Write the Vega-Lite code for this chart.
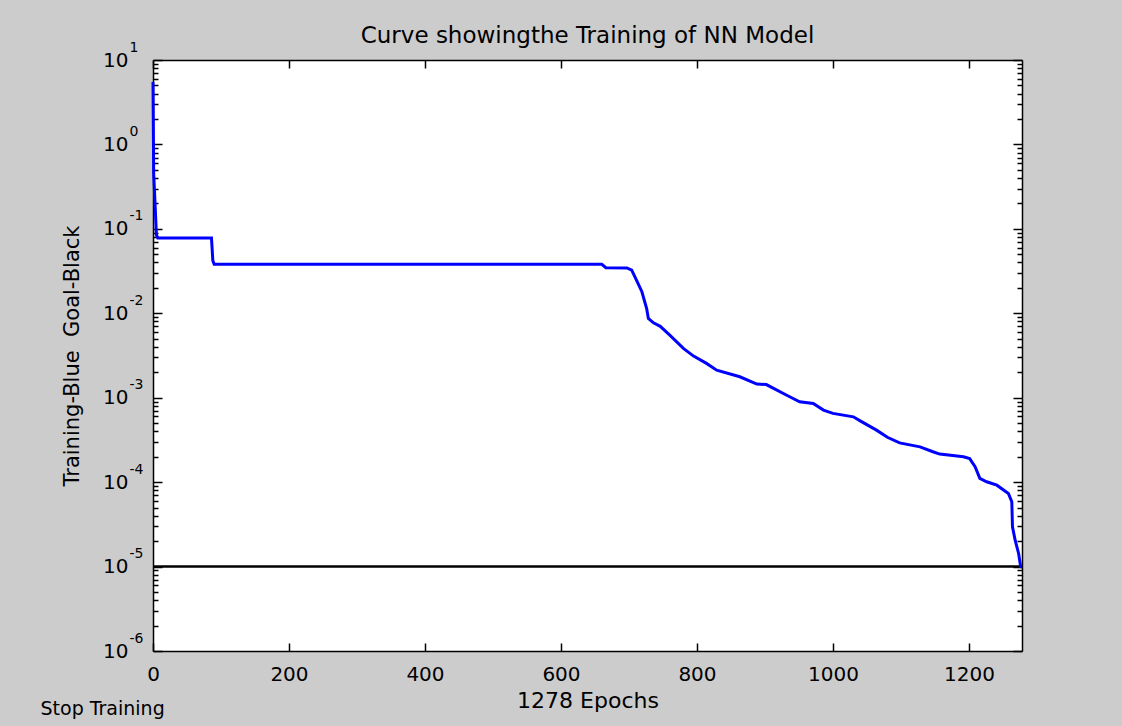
{
  "$schema": "https://vega.github.io/schema/vega-lite/v6.json",
  "width": 869,
  "height": 591,
  "autosize": {"type": "none"},
  "padding": {"left": 153, "top": 60, "right": 100, "bottom": 75},
  "background": "#cccccc",
  "config": {
    "view": {"fill": "white", "stroke": null},
    "font": "DejaVu Sans",
    "axis": {
      "domainColor": "black",
      "domainWidth": 1.5,
      "tickColor": "black",
      "tickWidth": 1.5,
      "grid": false,
      "labelFont": "DejaVu Sans",
      "labelFontSize": 20,
      "labelColor": "black",
      "titleFont": "DejaVu Sans",
      "titleFontSize": 21,
      "titleFontWeight": "normal",
      "titleColor": "black",
      "labelOverlap": false,
      "labelFlush": false,
      "minExtent": 0
    }
  },
  "title": {
    "text": "Curve showingthe Training of NN Model",
    "font": "DejaVu Sans",
    "fontSize": 23,
    "fontWeight": "normal",
    "color": "black",
    "anchor": "middle",
    "frame": "group",
    "baseline": "alphabetic",
    "offset": 18,
    "dy": 44
  },
  "datasets": {
    "goal": [
      {"epoch": 0, "goal": 0.00001},
      {"epoch": 1278, "goal": 0.00001}
    ],
    "perf": [
      {"epoch": 0, "perf": 5.5},
      {"epoch": 1, "perf": 0.45},
      {"epoch": 3, "perf": 0.2},
      {"epoch": 5, "perf": 0.085},
      {"epoch": 7, "perf": 0.078},
      {"epoch": 86, "perf": 0.078},
      {"epoch": 88, "perf": 0.042},
      {"epoch": 90, "perf": 0.038},
      {"epoch": 660, "perf": 0.038},
      {"epoch": 666, "perf": 0.0347},
      {"epoch": 697, "perf": 0.0345},
      {"epoch": 704, "perf": 0.0325},
      {"epoch": 711, "perf": 0.0247},
      {"epoch": 719, "perf": 0.018},
      {"epoch": 726, "perf": 0.0114},
      {"epoch": 728.5, "perf": 0.0087},
      {"epoch": 736, "perf": 0.0077},
      {"epoch": 746, "perf": 0.007},
      {"epoch": 760, "perf": 0.0055},
      {"epoch": 780, "perf": 0.00384},
      {"epoch": 795, "perf": 0.00311},
      {"epoch": 814, "perf": 0.00255},
      {"epoch": 829, "perf": 0.00212},
      {"epoch": 863, "perf": 0.00177},
      {"epoch": 888, "perf": 0.00145},
      {"epoch": 902, "perf": 0.00143},
      {"epoch": 932, "perf": 0.00107},
      {"epoch": 951, "perf": 0.000895},
      {"epoch": 971, "perf": 0.000855},
      {"epoch": 986, "perf": 0.000713},
      {"epoch": 1000, "perf": 0.000652},
      {"epoch": 1030, "perf": 0.000594},
      {"epoch": 1040, "perf": 0.000532},
      {"epoch": 1064, "perf": 0.000413},
      {"epoch": 1080, "perf": 0.00034},
      {"epoch": 1098, "perf": 0.000292},
      {"epoch": 1128, "perf": 0.000262},
      {"epoch": 1147, "perf": 0.000229},
      {"epoch": 1157, "perf": 0.000215},
      {"epoch": 1192, "perf": 0.0002},
      {"epoch": 1201, "perf": 0.00019},
      {"epoch": 1209, "perf": 0.000152},
      {"epoch": 1216, "perf": 0.000111},
      {"epoch": 1226, "perf": 0.000101},
      {"epoch": 1241, "perf": 0.000092},
      {"epoch": 1258, "perf": 0.0000735},
      {"epoch": 1263, "perf": 0.0000585},
      {"epoch": 1264, "perf": 0.0000295},
      {"epoch": 1268, "perf": 0.0000204},
      {"epoch": 1273, "perf": 0.0000143},
      {"epoch": 1276, "perf": 0.00001},
      {"epoch": 1278, "perf": 0.0000099}
    ]
  },
  "layer": [
    {
      "data": {"name": "goal"},
      "mark": {"type": "line", "color": "black", "strokeWidth": 2.5},
      "encoding": {
        "x": {
          "field": "epoch",
          "type": "quantitative",
          "scale": {"domain": [0, 1278], "nice": false, "zero": false},
          "axis": {
            "orient": "top",
            "values": [0, 200, 400, 600, 800, 1000, 1200],
            "labels": false,
            "tickSize": -8,
            "title": null
          }
        },
        "y": {
          "field": "goal",
          "type": "quantitative",
          "scale": {"type": "log", "domain": [0.000001, 10], "nice": false},
          "axis": {
            "orient": "right",
            "values": [0.000001, 0.000002, 0.000003, 0.000004, 0.000005, 0.000006, 0.000007, 0.000008, 0.000009, 0.00001, 0.00002, 0.00003, 0.00004, 0.00005, 0.00006, 0.00007, 0.00008, 0.00009, 0.0001, 0.0002, 0.0003, 0.0004, 0.0005, 0.0006, 0.0007, 0.0008, 0.0009, 0.001, 0.002, 0.003, 0.004, 0.005, 0.006, 0.007, 0.008, 0.009, 0.01, 0.02, 0.03, 0.04, 0.05, 0.06, 0.07, 0.08, 0.09, 0.1, 0.2, 0.3, 0.4, 0.5, 0.6, 0.7, 0.8, 0.9, 1, 2, 3, 4, 5, 6, 7, 8, 9, 10],
            "labels": false,
            "tickSize": {"condition": {"test": "abs(log(datum.value)/LN10 - round(log(datum.value)/LN10)) < 0.001", "value": -9}, "value": -5},
            "title": null
          }
        }
      }
    },
    {
      "data": {"name": "goal"},
      "mark": {"type": "line", "strokeOpacity": 0},
      "encoding": {
        "x": {
          "field": "epoch",
          "type": "quantitative",
          "scale": {"domain": [0, 1278], "nice": false, "zero": false},
          "axis": {
            "orient": "bottom",
            "domain": false,
            "ticks": false,
            "labels": false,
            "title": "Stop Training",
            "titleFontSize": 19,
            "titleAlign": "left",
            "titleBaseline": "alphabetic",
            "titleX": -113,
            "titleY": 63
          }
        },
        "y": {
          "field": "goal",
          "type": "quantitative",
          "scale": {"type": "log", "domain": [0.000001, 10], "nice": false},
          "axis": {
            "orient": "left",
            "values": [0.000001, 0.00001, 0.0001, 0.001, 0.01, 0.1, 1, 10],
            "domain": false,
            "ticks": false,
            "labelExpr": "'' + round(log(datum.value)/LN10)",
            "labelAlign": "left",
            "labelBaseline": "middle",
            "labelFontSize": 14,
            "labelPadding": 24,
            "labelOffset": -13,
            "title": null
          }
        }
      }
    },
    {
      "data": {"name": "perf"},
      "mark": {"type": "line", "color": "#0000ff", "strokeWidth": 3},
      "encoding": {
        "x": {
          "field": "epoch",
          "type": "quantitative",
          "scale": {"domain": [0, 1278], "nice": false, "zero": false},
          "axis": {
            "orient": "bottom",
            "values": [0, 200, 400, 600, 800, 1000, 1200],
            "format": "d",
            "tickSize": -8,
            "labelPadding": 21,
            "title": "1278 Epochs",
            "titleFontSize": 22,
            "titlePadding": 6
          }
        },
        "y": {
          "field": "perf",
          "type": "quantitative",
          "scale": {"type": "log", "domain": [0.000001, 10], "nice": false},
          "axis": {
            "orient": "left",
            "values": [0.000001, 0.000002, 0.000003, 0.000004, 0.000005, 0.000006, 0.000007, 0.000008, 0.000009, 0.00001, 0.00002, 0.00003, 0.00004, 0.00005, 0.00006, 0.00007, 0.00008, 0.00009, 0.0001, 0.0002, 0.0003, 0.0004, 0.0005, 0.0006, 0.0007, 0.0008, 0.0009, 0.001, 0.002, 0.003, 0.004, 0.005, 0.006, 0.007, 0.008, 0.009, 0.01, 0.02, 0.03, 0.04, 0.05, 0.06, 0.07, 0.08, 0.09, 0.1, 0.2, 0.3, 0.4, 0.5, 0.6, 0.7, 0.8, 0.9, 1, 2, 3, 4, 5, 6, 7, 8, 9, 10],
            "tickSize": {"condition": {"test": "abs(log(datum.value)/LN10 - round(log(datum.value)/LN10)) < 0.001", "value": -9}, "value": -5},
            "labelExpr": "abs(log(datum.value)/LN10 - round(log(datum.value)/LN10)) > 0.001 ? '' : '10'",
            "labelPadding": 34,
            "title": "Training-Blue\u00a0 Goal-Black",
            "titlePadding": 20
          }
        }
      }
    }
  ],
  "resolve": {"axis": {"x": "independent", "y": "independent"}}
}
